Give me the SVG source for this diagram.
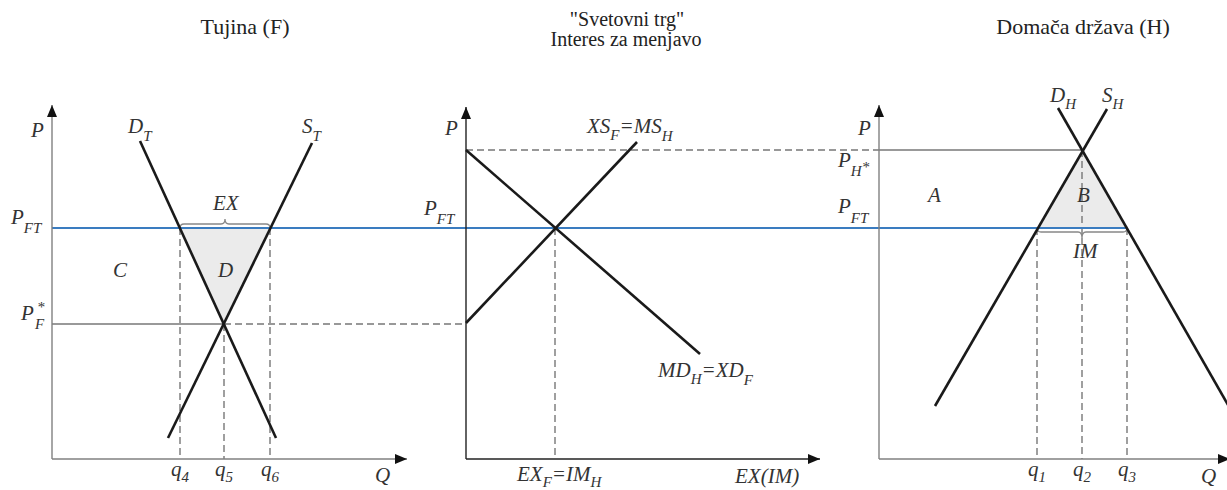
<svg xmlns="http://www.w3.org/2000/svg" width="1227" height="490" viewBox="0 0 1227 490">
<style>
text{font-family:"Liberation Serif","Times New Roman","DejaVu Serif",serif}
.title{font-size:22px;fill:#222}
.mt{font-size:20px;fill:#222}
.lb{font-style:italic;font-size:21px;fill:#333}
.s{font-size:15px}
.ax{stroke:#808080;stroke-width:1.4;fill:none}
.axd{stroke:#222;stroke-width:1.4;fill:none}
.cv{stroke:#1a1a1a;stroke-width:2.6;fill:none;stroke-linecap:butt}
.ds{stroke:#777;stroke-width:1.4;stroke-dasharray:7,4;fill:none}
.sl{stroke:#777;stroke-width:1.4;fill:none}
.bl{stroke:#3a7cc0;stroke-width:1.8;fill:none}
.br{stroke:#888;stroke-width:1.3;fill:none}
.sh{fill:#ebebeb;stroke:none}
</style>
<defs>
<marker id="arr" markerUnits="userSpaceOnUse" markerWidth="14" markerHeight="12" refX="12" refY="5" orient="auto">
<path d="M0,0 L12,5 L0,10 Z" fill="#111"/>
</marker>
</defs>
<rect width="1227" height="490" fill="#fff"/>

<g id="titles">
<text class="title" x="245" y="34" text-anchor="middle">Tujina (F)</text>
<text class="mt" x="627" y="26" text-anchor="middle">"Svetovni trg"</text>
<text class="mt" x="626" y="46" text-anchor="middle">Interes za menjavo</text>
<text class="title" x="1083" y="34" text-anchor="middle">Domača država (H)</text>
</g>

<g id="shading">
<polygon class="sh" points="180,228 270,228 224,324"/>
<polygon class="sh" points="1082,150 1037,228 1127,228"/>
</g>

<g id="connectors">
<line class="sl" x1="52" y1="324" x2="224" y2="324"/>
<line class="ds" x1="224" y1="324" x2="466" y2="324"/>
<line class="ds" x1="466" y1="150" x2="879" y2="150"/>
<line class="sl" x1="879" y1="150" x2="1082" y2="150"/>
<line class="ds" x1="180" y1="228" x2="180" y2="459"/>
<line class="ds" x1="224" y1="324" x2="224" y2="459"/>
<line class="ds" x1="270" y1="228" x2="270" y2="459"/>
<line class="ds" x1="555" y1="228" x2="555" y2="459"/>
<line class="ds" x1="1037" y1="228" x2="1037" y2="459"/>
<line class="ds" x1="1082" y1="150" x2="1082" y2="459"/>
<line class="ds" x1="1127" y1="228" x2="1127" y2="459"/>
<line class="bl" x1="52" y1="228" x2="1127" y2="228"/>
<path class="br" d="M180,228 Q180,224 184,224 L221,224 Q225,224 225,219 Q225,224 229,224 L266,224 Q270,224 270,228"/>
<path class="br" d="M1037,228 Q1037,232 1041,232 L1078,232 Q1082,232 1082,238 Q1082,232 1086,232 L1123,232 Q1127,232 1127,228"/>
</g>

<g id="panel-F">
<line class="ax" x1="52" y1="459" x2="52" y2="105" marker-end="url(#arr)"/>
<line class="ax" x1="52" y1="459" x2="407" y2="459" marker-end="url(#arr)"/>
<line class="cv" x1="140" y1="141" x2="276" y2="438"/>
<line class="cv" x1="312" y1="143" x2="168" y2="438"/>
<text class="lb" x="31" y="137">P</text>
<text class="lb" x="128" y="133">D<tspan class="s" dy="8">T</tspan></text>
<text class="lb" x="302" y="133">S<tspan class="s" dy="8">T</tspan></text>
<text class="lb" x="213" y="210">EX</text>
<text class="lb" x="11" y="224">P<tspan class="s" dy="9">FT</tspan></text>
<text class="lb" x="113" y="277">C</text>
<text class="lb" x="218" y="277">D</text>
<text class="lb" x="21" y="320">P</text><text class="lb s" x="37" y="312">*</text><text class="lb s" x="35" y="329">F</text>
<text class="lb" x="171" y="476">q<tspan class="s" dy="6">4</tspan></text>
<text class="lb" x="215" y="476">q<tspan class="s" dy="6">5</tspan></text>
<text class="lb" x="261" y="476">q<tspan class="s" dy="6">6</tspan></text>
<text class="lb" x="375" y="482">Q</text>
</g>

<g id="panel-world">
<line class="axd" x1="466" y1="459" x2="466" y2="107" marker-end="url(#arr)"/>
<line class="axd" x1="466" y1="459" x2="820" y2="459" marker-end="url(#arr)"/>
<line class="cv" x1="466" y1="150" x2="700" y2="354"/>
<line class="cv" x1="466" y1="323" x2="637" y2="142"/>
<text class="lb" x="445" y="135">P</text>
<text class="lb" x="587" y="133">XS<tspan class="s" dy="7">F</tspan><tspan dy="-7">=MS</tspan><tspan class="s" dy="8">H</tspan></text>
<text class="lb" x="424" y="215">P<tspan class="s" dy="9">FT</tspan></text>
<text class="lb" x="658" y="377">MD<tspan class="s" dy="7">H</tspan><tspan dy="-7">=XD</tspan><tspan class="s" dy="8">F</tspan></text>
<text class="lb" x="517" y="481">EX<tspan class="s" dy="6">F</tspan><tspan dy="-6">=IM</tspan><tspan class="s" dy="6">H</tspan></text>
<text class="lb" x="735" y="483">EX(IM)</text>
</g>

<g id="panel-H">
<line class="ax" x1="879" y1="459" x2="879" y2="105" marker-end="url(#arr)"/>
<line class="ax" x1="879" y1="459" x2="1230" y2="459" marker-end="url(#arr)"/>
<line class="cv" x1="1058" y1="108" x2="1235" y2="417"/>
<line class="cv" x1="1107" y1="109" x2="935" y2="406"/>
<text class="lb" x="1050" y="102">D<tspan class="s" dy="7">H</tspan></text>
<text class="lb" x="1102" y="102">S<tspan class="s" dy="7">H</tspan></text>
<text class="lb" x="858" y="135">P</text>
<text class="lb" x="838" y="167">P<tspan class="s" dy="9">H</tspan><tspan class="s" dy="-4">*</tspan></text>
<text class="lb" x="928" y="202">A</text>
<text class="lb" x="1077" y="202">B</text>
<text class="lb" x="838" y="213">P<tspan class="s" dy="10">FT</tspan></text>
<text class="lb" x="1073" y="258">IM</text>
<text class="lb" x="1028" y="476">q<tspan class="s" dy="6">1</tspan></text>
<text class="lb" x="1073" y="476">q<tspan class="s" dy="6">2</tspan></text>
<text class="lb" x="1118" y="476">q<tspan class="s" dy="6">3</tspan></text>
<text class="lb" x="1201" y="483">Q</text>
</g>
</svg>
